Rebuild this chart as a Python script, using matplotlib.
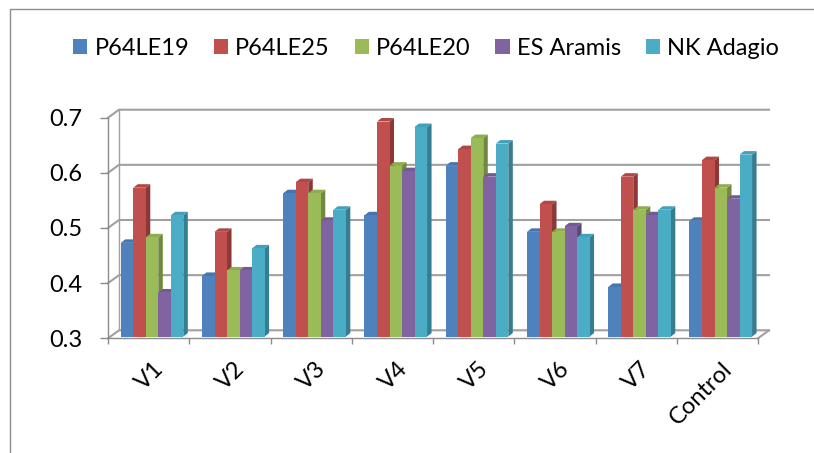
import numpy as np
import matplotlib
matplotlib.use("Agg")
import matplotlib.pyplot as plt
from matplotlib.patches import Polygon, Patch
from matplotlib.lines import Line2D
from matplotlib.transforms import IdentityTransform, ScaledTranslation

plt.rcParams['font.family'] = ['Lato', 'DejaVu Sans']

# ------------------------------------------------------------
# Data
# ------------------------------------------------------------
categories = ['V1', 'V2', 'V3', 'V4', 'V5', 'V6', 'V7', 'Control']
series_names = ['P64LE19', 'P64LE25', 'P64LE20', 'ES Aramis', 'NK Adagio']
p64le19 = [0.47, 0.41, 0.56, 0.52, 0.61, 0.49, 0.39, 0.51]
p64le25 = [0.57, 0.49, 0.58, 0.69, 0.64, 0.54, 0.59, 0.62]
p64le20 = [0.48, 0.42, 0.56, 0.61, 0.66, 0.49, 0.53, 0.57]
es_aramis = [0.38, 0.42, 0.51, 0.60, 0.59, 0.50, 0.52, 0.55]
nk_adagio = [0.52, 0.46, 0.53, 0.68, 0.65, 0.48, 0.53, 0.63]
yticks = [0.3, 0.4, 0.5, 0.6, 0.7]

all_series = [p64le19, p64le25, p64le20, es_aramis, nk_adagio]

# styling
front_colors = ['#4F81BD', '#C0504D', '#9BBB59', '#8064A2', '#4BACC6']
side_colors = ['#385D8A', '#8C3836', '#71893F', '#5C4776', '#357D91']
top_colors = ['#4574B0', '#B04744', '#8DAD4E', '#735897', '#41A0BA']
axis_gray = '#8C8C8C'
grid_gray = '#A0A0A0'

W, H = 814, 453
WALL_DX, WALL_DY = 11, 8      # back wall offset (px)
BAR_DX, BAR_DY = 4.5, 3.5     # bar depth (px)
SHIFT_X, SHIFT_Y = 3.4, 1.7   # bars sit a little behind the front plane

fig = plt.figure(figsize=(W / 100, H / 100), dpi=100)
fig.patch.set_facecolor('white')

# chart border: only the left and top edges are in the crop
fig.add_artist(Line2D([9.5 / W, 9.5 / W, 1.0], [0.0, 1 - 8.5 / H, 1 - 8.5 / H],
                      transform=fig.transFigure, color=axis_gray, lw=1))

left, right = 108, 758
bottom, top = 338.3, 117.7
ax = fig.add_axes([left / W, (H - bottom) / H, (right - left) / W, (bottom - top) / H])
ax.set_xlim(0, len(categories))
ax.set_ylim(yticks[0], yticks[-1])
ax.patch.set_visible(False)
for s in ['top', 'right']:
    ax.spines[s].set_visible(False)
for s in ['left', 'bottom']:
    ax.spines[s].set_color(axis_gray)
    ax.spines[s].set_linewidth(1)

ax.set_yticks(yticks)
ax.set_yticklabels([f'{v:.1f}' for v in yticks])
ax.tick_params(axis='y', length=5.8, width=1, color=axis_gray, pad=12.5, labelsize=17)
ax.set_xticks(np.arange(len(categories) + 1))
ax.set_xticklabels([])
ax.tick_params(axis='x', length=4.3, width=1, color=axis_gray)

ident = IdentityTransform()

# ------------------------------------------------------------
# Back wall, side wall and floor
# ------------------------------------------------------------
x0d = ax.transData.transform((0, yticks[0]))[0]
x1d = ax.transData.transform((len(categories), yticks[0]))[0]
for yv in yticks:
    yd = ax.transData.transform((0, yv))[1]
    ax.add_line(Line2D([x0d, x0d + WALL_DX, x1d + WALL_DX],
                       [yd, yd + WALL_DY, yd + WALL_DY],
                       transform=ident, color=grid_gray, lw=1.5,
                       clip_on=False, zorder=1))
y_lo = ax.transData.transform((0, yticks[0]))[1]
y_hi = ax.transData.transform((0, yticks[-1]))[1]
ax.add_line(Line2D([x0d + WALL_DX, x0d + WALL_DX], [y_lo + WALL_DY, y_hi + WALL_DY],
                   transform=ident, color=grid_gray, lw=1.0, clip_on=False, zorder=1))
ax.add_line(Line2D([x1d, x1d + WALL_DX], [y_lo, y_lo + WALL_DY],
                   transform=ident, color=grid_gray, lw=1.5, clip_on=False, zorder=1))

# ------------------------------------------------------------
# 3D-looking clustered columns
# ------------------------------------------------------------
n = len(all_series)
bar_w = 0.154
x = np.arange(len(categories)) + 0.5
shift = ScaledTranslation(SHIFT_X / 100, SHIFT_Y / 100, fig.dpi_scale_trans)

for j, vals in enumerate(all_series):
    pos = x + (j - (n - 1) / 2) * bar_w
    heights = np.array(vals) - yticks[0]
    bars = ax.bar(pos, heights, width=bar_w, bottom=yticks[0],
                  color=front_colors[j], linewidth=0,
                  transform=ax.transData + shift, zorder=3 + j * 0.1,
                  clip_on=False, label=series_names[j])
    for b in bars:
        (bx0, by0) = (ax.transData + shift).transform((b.get_x(), b.get_y()))
        (bx1, by1) = (ax.transData + shift).transform((b.get_x() + b.get_width(),
                                                       b.get_y() + b.get_height()))
        side = Polygon([(bx1, by0), (bx1 + BAR_DX, by0 + BAR_DY),
                        (bx1 + BAR_DX, by1 + BAR_DY), (bx1, by1)],
                       closed=True, transform=ident, facecolor=side_colors[j],
                       linewidth=0, clip_on=False, zorder=3 + j * 0.1 - 0.05)
        topf = Polygon([(bx0, by1), (bx1, by1), (bx1 + BAR_DX, by1 + BAR_DY),
                        (bx0 + BAR_DX, by1 + BAR_DY)],
                       closed=True, transform=ident, facecolor=top_colors[j],
                       linewidth=0, clip_on=False, zorder=3 + j * 0.1 - 0.05)
        ax.add_patch(side)
        ax.add_patch(topf)

# category labels, rotated
for i, cat in enumerate(categories):
    ax.annotate(cat, xy=(x[i], yticks[0]), xycoords='data',
                xytext=(4, -20), textcoords='offset pixels',
                rotation=45, rotation_mode='anchor', ha='right', va='top',
                fontsize=17, color='black', annotation_clip=False)

# legend
handles = [Patch(facecolor=c, edgecolor='none') for c in front_colors]
fig.legend(handles, series_names, ncol=5, loc='center',
           bbox_to_anchor=(426 / W, 1 - 48.7 / H), frameon=False,
           fontsize=17, handlelength=0.6, handleheight=0.6,
           handletextpad=0.3, columnspacing=1.05, borderaxespad=0)

fig.savefig('out.png', dpi=100)
